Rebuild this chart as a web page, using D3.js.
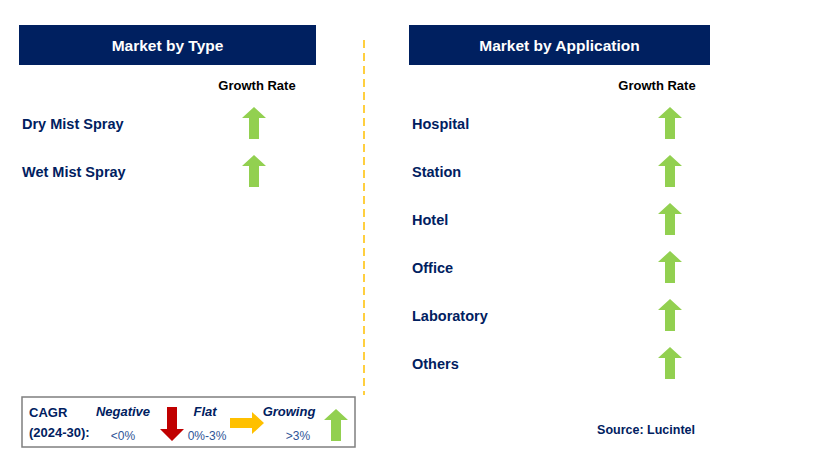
<!DOCTYPE html>
<html>
<head>
<meta charset="utf-8">
<script src="https://cdn.jsdelivr.net/npm/d3@7"></script>
<style>
  body { margin: 0; background: #fff; }
  text { font-family: "Liberation Sans", Arial, sans-serif; }
</style>
</head>
<body>
<svg width="818" height="474"></svg>
<script>
// data
const typeCategories = ['Dry Mist Spray', 'Wet Mist Spray'];
const typeGrowth = ['up', 'up'];
const appCategories = ['Hospital', 'Station', 'Hotel', 'Office', 'Laboratory', 'Others'];
const appGrowth = ['up', 'up', 'up', 'up', 'up', 'up'];
const legendItems = ['Negative', 'Flat', 'Growing'];
const legendRanges = ['<0%', '0%-3%', '>3%'];
const legendArrows = ['down', 'right', 'up'];

const svg = d3.select('svg');
const navy = '#002060';
const arrowColor = { up: '#92D050', down: '#C00000', right: '#FFC000' };

// arrow shapes, centred on 0,0
const arrowPath = {
  up: 'M0,-16 L12,-5 L5,-5 L5,16 L-5,16 L-5,-5 L-12,-5 Z',
  down: 'M0,17 L12,5 L5,5 L5,-17 L-5,-17 L-5,5 L-12,5 Z',
  right: 'M17,0 L5,-11 L5,-5 L-17,-5 L-17,5 L5,5 L5,11 Z'
};

// row scale shared by both panels
const rowY = d3.scaleLinear().domain([0, 1]).range([124, 172]);

function panel(x0, w, title, cats, growth, arrowX, headX) {
  const g = svg.append('g');
  g.append('rect')
    .attr('x', x0).attr('y', 25).attr('width', w).attr('height', 40)
    .attr('fill', navy);
  g.append('text')
    .attr('x', x0 + w / 2).attr('y', 45)
    .attr('text-anchor', 'middle').attr('dominant-baseline', 'central')
    .attr('fill', '#fff').style('font-weight', 'bold').style('font-size', '15.5px')
    .text(title);
  g.append('text')
    .attr('x', headX).attr('y', 85)
    .attr('text-anchor', 'middle').attr('dominant-baseline', 'central')
    .attr('fill', '#000').style('font-weight', 'bold').style('font-size', '13px')
    .text('Growth Rate');

  g.selectAll('text.cat').data(cats).enter().append('text')
    .attr('class', 'cat')
    .attr('x', x0 + 3)
    .attr('y', (d, i) => rowY(i))
    .attr('dominant-baseline', 'central')
    .attr('fill', navy).style('font-weight', 'bold').style('font-size', '14.5px')
    .text(d => d);

  g.selectAll('path.arr').data(growth).enter().append('path')
    .attr('class', 'arr')
    .attr('transform', (d, i) => `translate(${arrowX},${rowY(i) - 1})`)
    .attr('d', d => arrowPath[d])
    .attr('fill', d => arrowColor[d]);
}

panel(19, 297, 'Market by Type', typeCategories, typeGrowth, 254, 257);
panel(409, 301, 'Market by Application', appCategories, appGrowth, 670, 657);

// divider
svg.append('line')
  .attr('x1', 364).attr('x2', 364).attr('y1', 40).attr('y2', 395)
  .attr('stroke', '#FFC000').attr('stroke-width', 1.5)
  .attr('stroke-dasharray', '8,5');

// legend
const lg = svg.append('g');
lg.append('rect')
  .attr('x', 22).attr('y', 397).attr('width', 333).attr('height', 50)
  .attr('fill', '#fff').attr('stroke', '#7f7f7f').attr('stroke-width', 1.5);
lg.append('text').attr('x', 29).attr('y', 417)
  .attr('fill', navy).style('font-weight', 'bold').style('font-size', '13px').text('CAGR');
lg.append('text').attr('x', 29).attr('y', 437)
  .attr('fill', navy).style('font-weight', 'bold').style('font-size', '13px').text('(2024-30):');

const labelX = [123, 205, 289];
const rangeX = [123, 207, 298];
const arrowPos = [[172, 424], [247, 423], [336, 425]];

lg.selectAll('text.li').data(legendItems).enter().append('text')
  .attr('class', 'li')
  .attr('x', (d, i) => labelX[i]).attr('y', 416)
  .attr('text-anchor', 'middle')
  .attr('fill', navy).style('font-weight', 'bold').style('font-style', 'italic').style('font-size', '13px')
  .text(d => d);
lg.selectAll('text.lr').data(legendRanges).enter().append('text')
  .attr('class', 'lr')
  .attr('x', (d, i) => rangeX[i]).attr('y', 440)
  .attr('text-anchor', 'middle')
  .attr('fill', '#2F5597').style('font-size', '12px')
  .text(d => d);
lg.selectAll('path.la').data(legendArrows).enter().append('path')
  .attr('class', 'la')
  .attr('transform', (d, i) => `translate(${arrowPos[i][0]},${arrowPos[i][1]})`)
  .attr('d', d => arrowPath[d])
  .attr('fill', d => arrowColor[d]);

// source
svg.append('text')
  .attr('x', 695).attr('y', 430)
  .attr('text-anchor', 'end').attr('dominant-baseline', 'central')
  .attr('fill', navy).style('font-weight', 'bold').style('font-size', '12.5px')
  .text('Source: Lucintel');
</script>
</body>
</html>
